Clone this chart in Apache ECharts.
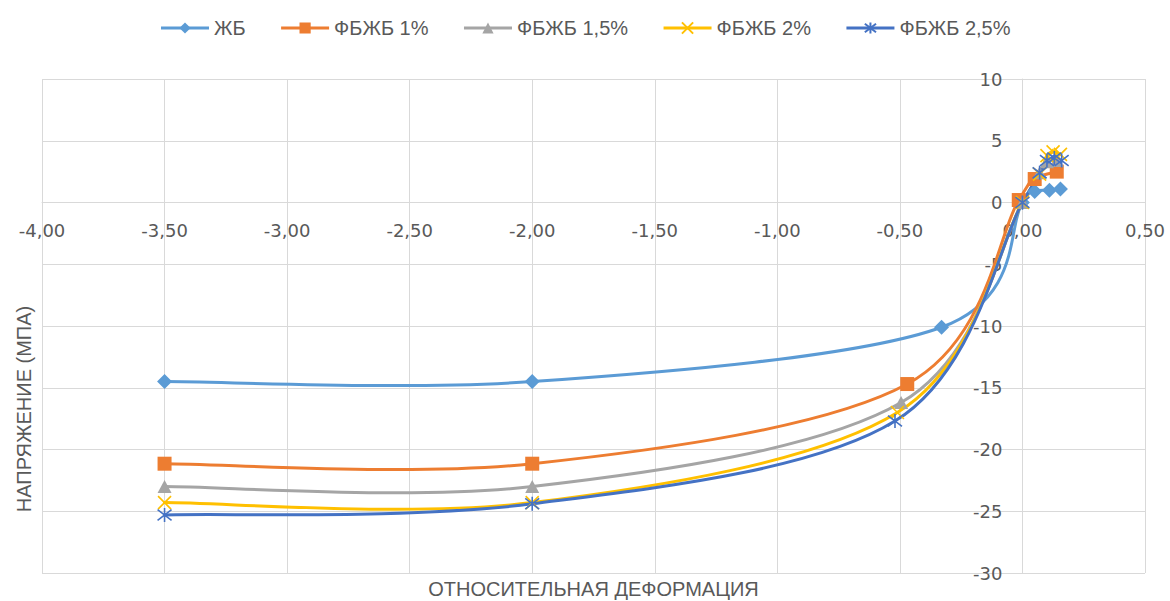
<!DOCTYPE html>
<html>
<head>
<meta charset="utf-8">
<script src="https://cdn.jsdelivr.net/npm/echarts@6/dist/echarts.min.js"></script>
<style>
html,body{margin:0;padding:0;background:#fff;}
#chart{width:1170px;height:601px;}
</style>
</head>
<body>
<div id="chart"></div>
<script>
// ---- data ----
const seriesNames = ['ЖБ', 'ФБЖБ 1%', 'ФБЖБ 1,5%', 'ФБЖБ 2%', 'ФБЖБ 2,5%'];

const zbX   = [-3.5, -2, -0.33, 0, 0.05, 0.11, 0.155];
const zbY   = [-14.5, -14.5, -10.1, 0, 0.9, 1.0, 1.1];

const f1X   = [-3.5, -2, -0.47, -0.015, 0.05, 0.14];
const f1Y   = [-21.15, -21.15, -14.7, 0.2, 1.9, 2.5];

const f15X  = [-3.5, -2, -0.495, 0, 0.07, 0.1, 0.14];
const f15Y  = [-23.0, -23.0, -16.2, 0, 2.4, 3.3, 3.4];

const f2X   = [-3.5, -2, -0.51, 0, 0.07, 0.1, 0.125, 0.155];
const f2Y   = [-24.3, -24.3, -17.0, 0, 2.3, 3.8, 4.1, 3.9];

const f25X  = [-3.5, -2, -0.52, 0, 0.07, 0.1, 0.13, 0.16];
const f25Y  = [-25.3, -24.4, -17.7, 0, 2.4, 3.4, 3.6, 3.4];

const xMin = -4, xMax = 0.5, xStep = 0.5;
const yMin = -30, yMax = 10, yStep = 5;
const xTitle = 'ОТНОСИТЕЛЬНАЯ ДЕФОРМАЦИЯ';
const yTitle = 'НАПРЯЖЕНИЕ (МПА)';

// ---- build ----
function pairs(xs, ys){ return xs.map((x,i)=>[x, ys[i]]); }

const colors = ['#5B9BD5', '#ED7D31', '#A5A5A5', '#FFC000', '#4472C4'];
const crossPath = 'path://M0,0L10,10M10,0L0,10';
const starPath  = 'path://M0,0L10,10M10,0L0,10M5,-1.5L5,11.5';
const symbols = ['diamond', 'rect', 'triangle', crossPath, starPath];
const symSizes = [[15,15],[14,14],[14,13],[13,13],[14,14]];
const dataSets = [pairs(zbX,zbY), pairs(f1X,f1Y), pairs(f15X,f15Y), pairs(f2X,f2Y), pairs(f25X,f25Y)];

const labelColor = '#595959';
const gridColor = '#d9d9d9';
const txtFont = 'Liberation Sans, Arial, sans-serif';
const numFont = 'DejaVu Sans, Verdana, sans-serif';

// smooth curve through the data points (Catmull-Rom in pixel space), drawn via the axes' scales
function makeCurveRenderer(pts, color) {
  return function (params, api) {
    if (params.dataIndex !== 0) return null;
    const p = pts.map(d => api.coord(d));
    const n = p.length;
    const children = [];
    for (let i = 0; i < n - 1; i++) {
      const p0 = p[Math.max(i - 1, 0)], p1 = p[i], p2 = p[i + 1], p3 = p[Math.min(i + 2, n - 1)];
      children.push({
        type: 'bezierCurve',
        shape: {
          x1: p1[0], y1: p1[1],
          cpx1: p1[0] + (p2[0] - p0[0]) / 6, cpy1: p1[1] + (p2[1] - p0[1]) / 6,
          cpx2: p2[0] - (p3[0] - p1[0]) / 6, cpy2: p2[1] - (p3[1] - p1[1]) / 6,
          x2: p2[0], y2: p2[1]
        },
        style: { stroke: color, lineWidth: 3, fill: null, lineCap: 'round' },
        silent: true
      });
    }
    return { type: 'group', children: children };
  };
}

const series = [];
seriesNames.forEach((name, i) => {
  const strokeOnly = i >= 3;
  series.push({
    name: name,
    type: 'line',
    data: dataSets[i],
    smooth: false,
    symbol: symbols[i],
    symbolSize: symSizes[i],
    showAllSymbol: true,
    z: 10 + i,
    lineStyle: { color: colors[i], width: 0, opacity: 0 },
    itemStyle: strokeOnly
      ? { color: 'rgba(0,0,0,0)', borderColor: colors[i], borderWidth: 1.6 }
      : { color: colors[i], borderColor: colors[i], borderWidth: 0 },
    emphasis: { disabled: true },
    animation: false
  });
});
seriesNames.forEach((name, i) => {
  series.push({
    name: name,
    type: 'custom',
    data: dataSets[i],
    encode: { x: 0, y: 1 },
    renderItem: makeCurveRenderer(dataSets[i], colors[i]),
    z: 2 + i,
    silent: true,
    animation: false
  });
});

const legendData = seriesNames.map((name, i) => ({
  name: name,
  lineStyle: { color: colors[i], width: 3, opacity: 1 }
}));

const chart = echarts.init(document.getElementById('chart'), null, { renderer: 'svg' });
const option = {
  animation: false,
  backgroundColor: '#ffffff',
  color: colors,
  legend: {
    top: 13,
    left: 'center',
    itemWidth: 48,
    itemHeight: 14,
    itemGap: 34,
    textStyle: { color: labelColor, fontSize: 20, fontFamily: txtFont },
    data: legendData
  },
  grid: { left: 42, right: 25, top: 79, bottom: 28, containLabel: false, outerBoundsMode: 'none' },
  xAxis: {
    type: 'value',
    position: 'bottom',
    min: xMin, max: xMax, interval: xStep,
    name: xTitle,
    nameLocation: 'middle',
    nameGap: 378,
    nameTextStyle: { color: labelColor, fontSize: 20, fontFamily: txtFont },
    axisLine: { show: true, onZero: false, lineStyle: { color: gridColor, width: 1 } },
    axisTick: { show: false },
    splitLine: { show: true, lineStyle: { color: gridColor, width: 1 } },
    axisLabel: {
      color: labelColor, fontSize: 18, fontFamily: numFont,
      margin: 19,
      formatter: v => v.toFixed(2).replace('.', ',')
    }
  },
  yAxis: {
    type: 'value',
    position: 'left',
    min: yMin, max: yMax, interval: yStep,
    name: yTitle,
    nameLocation: 'middle',
    nameRotate: 90,
    nameGap: 990,
    nameTextStyle: { color: labelColor, fontSize: 20, fontFamily: txtFont, padding: [0, 166, 0, 0] },
    axisLine: { show: true, onZero: false, lineStyle: { color: gridColor, width: 1 } },
    axisTick: { show: false },
    splitLine: { show: true, lineStyle: { color: gridColor, width: 1 } },
    axisLabel: {
      color: labelColor, fontSize: 18, fontFamily: numFont,
      margin: 20
    }
  },
  series: series
};
chart.setOption(option);

// place the axes where the other axis is zero (as in the reference)
const gridRect = { left: 42, top: 79, right: 1170 - 25, bottom: 601 - 28 };
const zero = chart.convertToPixel({ gridIndex: 0 }, [0, 0]);
chart.setOption({
  xAxis: { offset: -(gridRect.bottom - zero[1]), nameGap: 579 - zero[1] },
  yAxis: { offset: -(zero[0] - gridRect.left), nameGap: zero[0] - 34 }
});
</script>
</body>
</html>
